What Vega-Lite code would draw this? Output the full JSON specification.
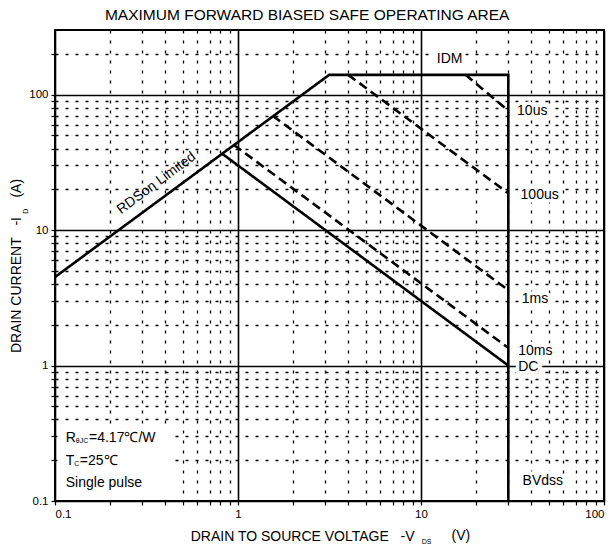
{
  "$schema": "https://vega.github.io/schema/vega-lite/v6.json",
  "width": 549,
  "height": 471,
  "autosize": {"type": "none"},
  "padding": {"left": 55, "top": 30, "right": 11, "bottom": 52},
  "title": {"text": "MAXIMUM FORWARD BIASED SAFE OPERATING AREA", "fontSize": 15.5, "fontWeight": "normal", "frame": "bounds", "anchor": "middle", "offset": 7, "color": "black"},
  "config": {
    "font": "Liberation Sans",
    "view": {"stroke": "black", "strokeWidth": 2},
    "axis": {
      "domain": false,
      "grid": true,
      "gridColor": "black",
      "gridOpacity": 1,
      "gridWidth": {"condition": {"test": "abs(log(datum.value)/LN10 - round(log(datum.value)/LN10)) < 0.01", "value": 1.6}, "value": 1.3},
      "gridDash": {"condition": {"test": "abs(log(datum.value)/LN10 - round(log(datum.value)/LN10)) < 0.01", "value": []}, "value": [3, 7]},
      "tickColor": "black",
      "tickSize": 4,
      "tickWidth": 1.2,
      "labelColor": "black",
      "labelFontSize": 11.5,
      "labelPadding": 3,
      "labelExpr": "abs(log(datum.value)/LN10 - round(log(datum.value)/LN10)) < 0.01 ? datum.label : ''",
      "format": "~g",
      "titleColor": "black",
      "titleFontSize": 14,
      "titleFontWeight": "normal"
    }
  },
  "datasets": {
    "curves": [
      {"s": "Boundary", "d": "solid", "k": 1, "v": 0.1, "i": 4.5},
      {"s": "Boundary", "d": "solid", "k": 2, "v": 3.15, "i": 140},
      {"s": "Boundary", "d": "solid", "k": 3, "v": 30, "i": 140},
      {"s": "Boundary", "d": "solid", "k": 4, "v": 30, "i": 0.1},
      {"s": "DC", "d": "solid", "k": 1, "v": 0.82, "i": 36.6},
      {"s": "DC", "d": "solid", "k": 2, "v": 30, "i": 1.0},
      {"s": "10ms", "d": "dashed", "k": 1, "v": 0.95, "i": 42.5},
      {"s": "10ms", "d": "dashed", "k": 2, "v": 30, "i": 1.35},
      {"s": "1ms", "d": "dashed", "k": 1, "v": 1.55, "i": 69.7},
      {"s": "1ms", "d": "dashed", "k": 2, "v": 30, "i": 3.6},
      {"s": "100us", "d": "dashed", "k": 1, "v": 4.0, "i": 140},
      {"s": "100us", "d": "dashed", "k": 2, "v": 30, "i": 18.7},
      {"s": "10us", "d": "dashed", "k": 1, "v": 17.5, "i": 140},
      {"s": "10us", "d": "dashed", "k": 2, "v": 30, "i": 76}
    ],
    "labels": [
      {"t": "IDM", "v": 12.2, "i": 184},
      {"t": "10us", "v": 33.5, "i": 76},
      {"t": "100us", "v": 35, "i": 18.2},
      {"t": "1ms", "v": 35.5, "i": 3.08},
      {"t": "10ms", "v": 34, "i": 1.29},
      {"t": "DC", "v": 34, "i": 0.97},
      {"t": "BVdss", "v": 35.9, "i": 0.14}
    ],
    "note": [
      {"t": "R", "v": 0.1145, "i": 0.292},
      {"t": "=4.17℃/W", "v": 0.1534, "i": 0.292},
      {"t": "T", "v": 0.1145, "i": 0.1977},
      {"t": "=25℃", "v": 0.1366, "i": 0.1977},
      {"t": "Single pulse", "v": 0.1145, "i": 0.1366},
      {"t": "(V)", "v": 14.7, "i": 0.0552}
    ],
    "subs": [
      {"t": "θJC", "v": 0.130, "i": 0.275},
      {"t": "C", "v": 0.1275, "i": 0.186},
      {"t": "DS", "v": 10.1, "i": 0.05}
    ],
    "box": [
      {"v": 0.103, "v2": 0.42, "i": 0.103, "i2": 0.34}
    ]
  },
  "encoding": {
    "x": {
      "field": "v", "type": "quantitative",
      "scale": {"type": "log", "domain": [0.1, 100], "nice": false},
      "axis": {
        "values": [0.1,0.2,0.3,0.4,0.5,0.6,0.7,0.8,0.9,1,2,3,4,5,6,7,8,9,10,20,30,40,50,60,70,80,90,100],
        "title": "DRAIN TO SOURCE VOLTAGE\u00a0\u00a0\u00a0-V",
        "titleAlign": "right",
        "titleX": 359,
        "titlePadding": 10
      }
    },
    "y": {
      "field": "i", "type": "quantitative",
      "scale": {"type": "log", "domain": [0.1, 300], "nice": false},
      "axis": {
        "values": [0.1,0.2,0.3,0.4,0.5,0.6,0.7,0.8,0.9,1,2,3,4,5,6,7,8,9,10,20,30,40,50,60,70,80,90,100,200],
        "title": "DRAIN CURRENT\u00a0\u00a0\u00a0-I\u00a0\u00a0\u00a0\u00a0\u00a0(A)",
        "titlePadding": 5
      }
    }
  },
  "layer": [
    {
      "data": {"name": "box"},
      "mark": {"type": "rect", "fill": "white", "stroke": null},
      "encoding": {"x2": {"field": "v2"}, "y2": {"field": "i2"}}
    },
    {
      "data": {"name": "curves"},
      "mark": {"type": "line", "color": "black", "strokeWidth": 2.6},
      "encoding": {
        "detail": {"field": "s", "type": "nominal"},
        "order": {"field": "k", "type": "quantitative"},
        "strokeDash": {"field": "d", "type": "nominal", "scale": {"domain": ["solid", "dashed"], "range": [[1, 0], [9, 5]]}, "legend": null}
      }
    },
    {
      "data": {"name": "labels"},
      "mark": {"type": "text", "align": "left", "baseline": "middle", "fontSize": 14, "stroke": "white", "strokeWidth": 7, "fill": "white"},
      "encoding": {"text": {"field": "t"}}
    },
    {
      "data": {"name": "labels"},
      "mark": {"type": "text", "align": "left", "baseline": "middle", "fontSize": 14, "color": "black"},
      "encoding": {"text": {"field": "t"}}
    },
    {
      "data": {"values": [{"t": "RDSon Limited", "v": 0.358, "i": 22.2}]},
      "mark": {"type": "text", "align": "center", "baseline": "middle", "fontSize": 14, "angle": 323.5, "color": "black"},
      "encoding": {"text": {"field": "t"}}
    },
    {
      "data": {"name": "note"},
      "mark": {"type": "text", "align": "left", "baseline": "middle", "fontSize": 14, "color": "black"},
      "encoding": {"text": {"field": "t"}}
    },
    {
      "data": {"name": "subs"},
      "mark": {"type": "text", "align": "left", "baseline": "middle", "fontSize": 7, "color": "black"},
      "encoding": {"text": {"field": "t"}}
    },
    {
      "data": {"values": [{"t": "D", "v": 0.0694, "i": 13.8}]},
      "mark": {"type": "text", "align": "center", "baseline": "middle", "fontSize": 7, "angle": 270, "color": "black"},
      "encoding": {"text": {"field": "t"}}
    }
  ]
}
